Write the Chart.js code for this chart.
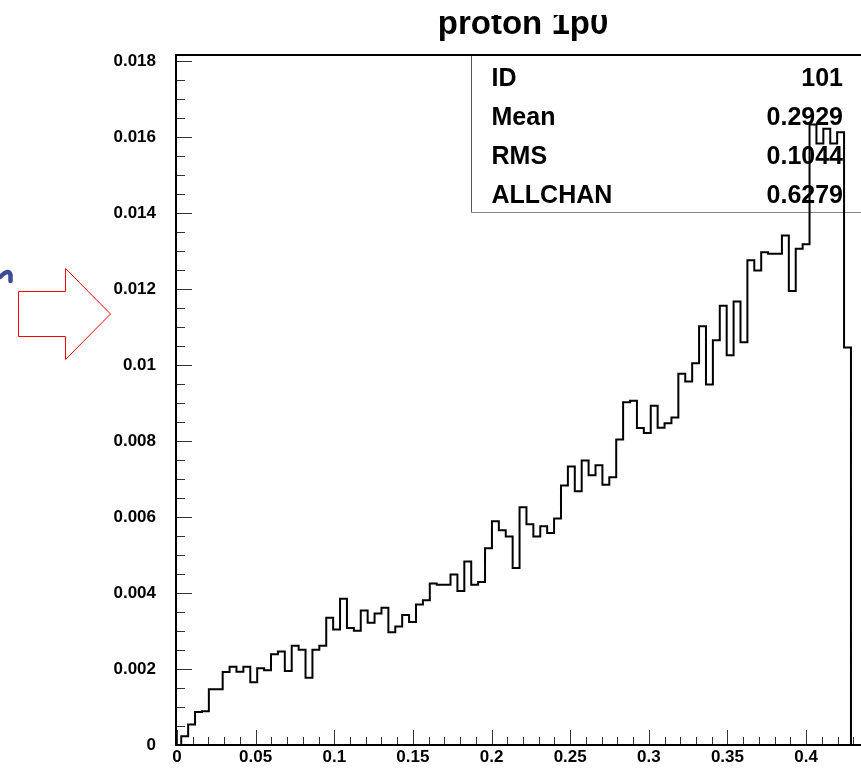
<!DOCTYPE html>
<html>
<head>
<meta charset="utf-8">
<script src="https://cdn.jsdelivr.net/npm/chart.js@4"></script>
<style>
    html, body { margin: 0; padding: 0; background: #fff; overflow: hidden; }
    #wrap { position: absolute; left: 0; top: 0; width: 900px; height: 768px; }
</style>
</head>
<body>
<div id="wrap"><canvas id="hist-chart" width="900" height="768"></canvas></div>
<script>
// histogram contents, 97 bins starting at binStart
var binStart = 0.0027;
var binWidth = 0.00439;
var binValues = [
    0.00023, 0.00054, 0.00087, 0.00089, 0.00147, 0.00147, 0.00192, 0.00206, 0.00193, 0.00206,
    0.00165, 0.00202, 0.00197, 0.00239, 0.00246, 0.00195, 0.00261, 0.00251, 0.00177, 0.00251,
    0.00261, 0.00335, 0.00304, 0.00385, 0.00308, 0.00301, 0.00354, 0.00322, 0.00346, 0.00361,
    0.00297, 0.00312, 0.00342, 0.00324, 0.00370, 0.00381, 0.00425, 0.00422, 0.00422, 0.00449,
    0.00405, 0.00483, 0.00422, 0.00429, 0.00518, 0.00589, 0.00565, 0.00549, 0.00466, 0.00626,
    0.00581, 0.00549, 0.00576, 0.00558, 0.00596, 0.00683, 0.00733, 0.00668, 0.00749, 0.00710,
    0.00736, 0.00685, 0.00705, 0.00804, 0.00902, 0.00906, 0.00834, 0.00821, 0.00893, 0.00835,
    0.00847, 0.00862, 0.00977, 0.00957, 0.01005, 0.01102, 0.00949, 0.01065, 0.01156, 0.01026,
    0.01167, 0.01060, 0.01276, 0.01249, 0.01297, 0.01293, 0.01293, 0.01341, 0.01195, 0.01306,
    0.01318, 0.01633, 0.01583, 0.01622, 0.01583, 0.01613, 0.01046
];

var xTicks = [0, 0.05, 0.1, 0.15, 0.2, 0.25, 0.3, 0.35, 0.4];
var xTickLabels = ["0", "0.05", "0.1", "0.15", "0.2", "0.25", "0.3", "0.35", "0.4"];
var yTicks = [0, 0.002, 0.004, 0.006, 0.008, 0.01, 0.012, 0.014, 0.016, 0.018];
var yTickLabels = ["0", "0.002", "0.004", "0.006", "0.008", "0.01", "0.012", "0.014", "0.016", "0.018"];

var histTitle = "proton 1p0";
var statNames = ["ID", "Mean", "RMS", "ALLCHAN"];
var statValues = ["101", "0.2929", "0.1044", "0.6279"];

var FONT = "'Liberation Sans', Arial, Helvetica, sans-serif";

// outline points for a stepped line: up at the first edge, across each bin, down at the end
var histPoints = [{ x: binStart, y: 0 }];
for (var i = 0; i < binValues.length; i++) {
    histPoints.push({ x: binStart + i * binWidth, y: binValues[i] });
}
histPoints.push({ x: binStart + binValues.length * binWidth, y: 0 });

var histDecor = {
    id: "histDecor",
    beforeDatasetsDraw: function (chart) {
        var ctx = chart.ctx;
        var ca = chart.chartArea;
        var left = ca.left + 294.5;
        var bottom = ca.top + 157.5;
        ctx.save();
        ctx.lineWidth = 1;
        ctx.strokeStyle = "#555";
        ctx.beginPath();
        ctx.moveTo(left, ca.top);
        ctx.lineTo(left, bottom);
        ctx.stroke();
        ctx.strokeStyle = "#888";
        ctx.beginPath();
        ctx.moveTo(left, bottom);
        ctx.lineTo(ca.right, bottom);
        ctx.stroke();

        ctx.fillStyle = "#000";
        ctx.font = "bold 25px " + FONT;
        ctx.textBaseline = "alphabetic";
        for (var r = 0; r < statNames.length; r++) {
            var base = ca.top + 31 + r * 39;
            ctx.textAlign = "left";
            ctx.fillText(statNames[r], left + 20, base);
            ctx.textAlign = "right";
            ctx.fillText(statValues[r], ca.left + 666, base);
        }
        ctx.restore();
    },
    afterDraw: function (chart) {
        var ctx = chart.ctx;
        var ca = chart.chartArea;
        var xs = chart.scales.x;
        var ys = chart.scales.y;
        ctx.save();

        // inward tick marks
        ctx.strokeStyle = "#333";
        ctx.lineWidth = 1;
        ctx.beginPath();
        for (var i = 0; i <= 36; i++) {
            var py = Math.round(ys.getPixelForValue(i * 0.0005)) + 0.5;
            var len = i % 4 === 0 ? 15 : 8;
            ctx.moveTo(ca.left, py);
            ctx.lineTo(ca.left + len, py);
        }
        for (var j = 0; j <= 44; j++) {
            var px = Math.round(xs.getPixelForValue(j * 0.01)) + 0.5;
            var xl = j % 5 === 0 ? 15 : 8;
            ctx.moveTo(px, ca.bottom);
            ctx.lineTo(px, ca.bottom - xl);
        }
        ctx.stroke();

        // frame
        ctx.strokeStyle = "#000";
        ctx.lineWidth = 2;
        ctx.strokeRect(ca.left - 1, ca.top, ca.right - ca.left + 1, ca.bottom - ca.top);

        // title, top edge cut off
        ctx.fillStyle = "#000";
        ctx.font = "bold 33px " + FONT;
        ctx.textAlign = "center";
        ctx.textBaseline = "alphabetic";
        ctx.fillText(histTitle, (ca.left + ca.right) / 2, 33.5);
        ctx.fillStyle = "#fff";
        ctx.fillRect(0, 0, chart.width, 15);

        // red outline arrow pointing at the y axis
        ctx.strokeStyle = "#ff0000";
        ctx.lineWidth = 1;
        ctx.beginPath();
        ctx.moveTo(18.5, 291.5);
        ctx.lineTo(65.5, 291.5);
        ctx.lineTo(65.5, 268.5);
        ctx.lineTo(110.5, 314);
        ctx.lineTo(65.5, 359.5);
        ctx.lineTo(65.5, 336.5);
        ctx.lineTo(18.5, 336.5);
        ctx.closePath();
        ctx.stroke();

        // pen stroke at the left edge
        ctx.strokeStyle = "#3e4b9c";
        ctx.lineWidth = 4.5;
        ctx.lineCap = "round";
        ctx.beginPath();
        ctx.moveTo(0, 277);
        ctx.quadraticCurveTo(9, 268, 10.5, 275);
        ctx.lineTo(10.5, 281);
        ctx.stroke();
        ctx.restore();
    }
};

// keep the plot frame where it is: no extra room for overhanging edge labels
function noEdgePadding(scale) {
    scale.paddingTop = 0;
    scale.paddingBottom = 0;
    scale.paddingLeft = 0;
    scale.paddingRight = 0;
}

var histChart = new Chart(document.getElementById("hist-chart"), {
    type: "line",
    data: {
        datasets: [
            {
                data: histPoints,
                stepped: true,
                borderColor: "#000",
                borderWidth: 2,
                pointRadius: 0,
                fill: false,
                tension: 0,
            },
        ],
    },
    options: {
        responsive: false,
        animation: false,
        devicePixelRatio: 1,
        layout: { padding: { left: 0, right: 31, top: 55, bottom: 0 } },
        plugins: {
            legend: { display: false },
            tooltip: { enabled: false },
        },
        scales: {
            x: {
                type: "linear",
                min: 0,
                max: 0.44,
                grid: { display: false, drawTicks: false },
                border: { display: false },
                afterFit: function (scale) {
                    scale.height = 23;
                    noEdgePadding(scale);
                },
                afterBuildTicks: function (scale) {
                    scale.ticks = xTicks.map(function (v) { return { value: v }; });
                },
                ticks: {
                    padding: 2,
                    maxRotation: 0,
                    autoSkip: false,
                    color: "#000",
                    font: { weight: "bold", size: 17, family: FONT },
                    callback: function (value, index) { return xTickLabels[index]; },
                },
            },
            y: {
                type: "linear",
                min: 0,
                max: 0.01816,
                grid: { display: false, drawTicks: false },
                border: { display: false },
                afterFit: function (scale) {
                    scale.width = 177;
                    noEdgePadding(scale);
                },
                afterBuildTicks: function (scale) {
                    scale.ticks = yTicks.map(function (v) { return { value: v }; });
                },
                ticks: {
                    padding: 21,
                    autoSkip: false,
                    color: "#000",
                    font: { weight: "bold", size: 17, family: FONT },
                    callback: function (value, index) { return yTickLabels[index]; },
                },
            },
        },
    },
    plugins: [histDecor],
});
</script>
</body>
</html>
